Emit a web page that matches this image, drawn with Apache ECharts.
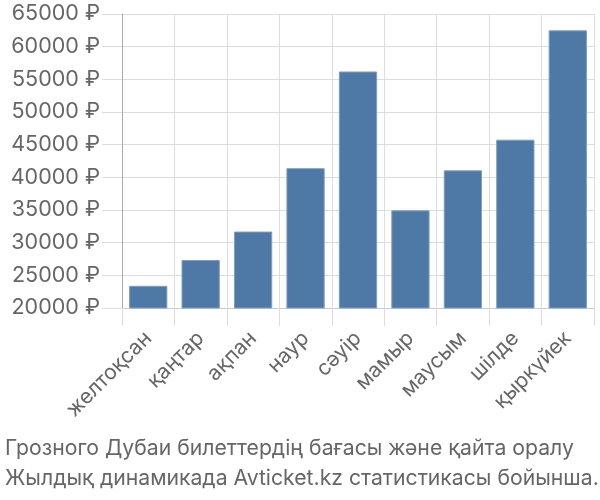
<!DOCTYPE html>
<html><head><meta charset="utf-8">
<script src="https://cdn.jsdelivr.net/npm/echarts@6/dist/echarts.min.js"></script>
<style>html,body{margin:0;padding:0;background:#fff}#c{width:600px;height:500px}</style>
</head><body><div id="c"></div>
<script>
const categories = ['желтоқсан','қаңтар','ақпан','наур','сәуір','мамыр','маусым','шілде','қыркүйек'];
const prices = [23400, 27350, 31700, 41400, 56200, 34950, 41070, 45760, 62500];
const yTicks = {min: 20000, max: 65000, step: 5000};
const captionLines = ['Грозного Дубаи билеттердің бағасы және қайта оралу','Жылдық динамикада Avticket.kz статистикасы бойынша.'];

const FONT = 'Inter, sans-serif';
const chart = echarts.init(document.getElementById('c'), null, {renderer:'canvas'});
chart.setOption({
  animation:false,
  textStyle:{fontFamily:FONT},
  grid:{left:122, right:6, top:14, bottom:192, containLabel:false},
  title:{text:captionLines.join('\n'), left:0, top:429,
    textStyle:{fontSize:21.2, fontWeight:'normal', color:'#666', lineHeight:30, fontFamily:FONT}},
  xAxis:{type:'category', data:categories, boundaryGap:true,
    axisLine:{show:true, lineStyle:{color:'#ccc'}},
    axisTick:{show:true, length:18, alignWithLabel:false, lineStyle:{color:'#ddd'}},
    splitLine:{show:true, lineStyle:{color:'#ddd'}},
    axisLabel:{rotate:45, fontSize:21, color:'#666', margin:27, interval:0, fontFamily:FONT}},
  yAxis:{type:'value', min:yTicks.min, max:yTicks.max, interval:yTicks.step,
    axisLine:{show:true, lineStyle:{color:'#aaa'}},
    axisTick:{show:true, length:20, lineStyle:{color:'#ddd'}},
    splitLine:{show:true, lineStyle:{color:'#ddd'}},
    axisLabel:{fontSize:21.5, color:'#666', margin:22, formatter: v => v + ' ₽', fontFamily:FONT}},
  series:[{type:'bar', data:prices, barWidth:'73%',
    itemStyle:{color:'#4e79a7', borderColor:'#7f9fc2', borderWidth:1}}]
});
</script></body></html>
